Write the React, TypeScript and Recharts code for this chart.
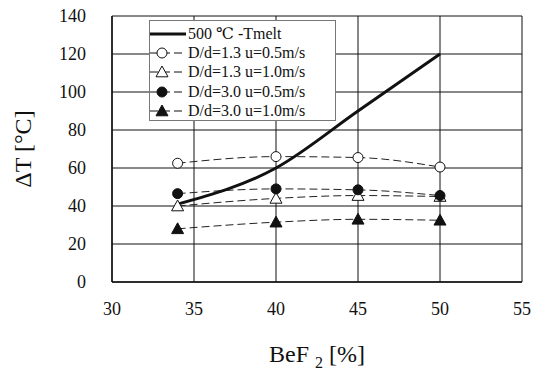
import React from 'react';
import {
  LineChart,
  Line,
  XAxis,
  YAxis,
  CartesianGrid,
  Label,
} from 'recharts';

const bef2 = [34, 40, 45, 50];
const tMelt = [41, 60, 90, 120];
const d13u05 = [62.5, 66, 65.5, 60.5];
const d13u10 = [40, 44, 45.5, 45];
const d30u05 = [46.5, 49, 48.5, 45.5];
const d30u10 = [28, 31.5, 33, 32.5];

const xTicks = [30, 35, 40, 45, 50, 55];
const yTicks = [0, 20, 40, 60, 80, 100, 120, 140];

const data = bef2.map((x, i) => ({
  x,
  tMelt: tMelt[i],
  d13u05: d13u05[i],
  d13u10: d13u10[i],
  d30u05: d30u05[i],
  d30u10: d30u10[i],
}));

const FONT = '"Liberation Serif", "DejaVu Serif", serif';

type Marker = 'none' | 'openCircle' | 'openTriangle' | 'circle' | 'triangle';

const MarkerShape = ({ kind, cx, cy }: { kind: Marker; cx: number; cy: number }) => {
  if (kind === 'openCircle' || kind === 'circle') {
    return (
      <circle
        cx={cx}
        cy={cy}
        r={5}
        fill={kind === 'circle' ? '#111' : '#fff'}
        stroke="#111"
        strokeWidth={1}
      />
    );
  }
  if (kind === 'openTriangle' || kind === 'triangle') {
    const s = 6;
    return (
      <polygon
        points={`${cx},${cy - s} ${cx - s},${cy + s * 0.8} ${cx + s},${cy + s * 0.8}`}
        fill={kind === 'triangle' ? '#111' : '#fff'}
        stroke="#111"
        strokeWidth={1}
      />
    );
  }
  return null;
};

const makeDot = (kind: Marker) => (props: any) => {
  const { cx, cy, index } = props;
  if (cx == null || cy == null) return <g key={index} />;
  return (
    <g key={index}>
      <MarkerShape kind={kind} cx={cx} cy={cy} />
    </g>
  );
};

const legendRows: { label: string; kind: Marker; dashed: boolean }[] = [
  { label: '500 ℃ -Tmelt', kind: 'none', dashed: false },
  { label: 'D/d=1.3 u=0.5m/s', kind: 'openCircle', dashed: true },
  { label: 'D/d=1.3 u=1.0m/s', kind: 'openTriangle', dashed: true },
  { label: 'D/d=3.0 u=0.5m/s', kind: 'circle', dashed: true },
  { label: 'D/d=3.0 u=1.0m/s', kind: 'triangle', dashed: true },
];

const ChartLegend = () => (
  <div
    style={{
      position: 'absolute',
      left: 149,
      top: 20,
      border: '1px solid #777',
      background: '#fff',
      width: 187,
      height: 101,
      padding: '3px 0',
      boxSizing: 'border-box',
      fontFamily: FONT,
      fontSize: 16,
      color: '#111',
    }}
  >
    {legendRows.map((r) => (
      <div key={r.label} style={{ display: 'flex', alignItems: 'center', height: 19.4 }}>
        <svg width={38} height={14}>
          <line
            x1={0}
            y1={7}
            x2={36}
            y2={7}
            stroke="#111"
            strokeWidth={r.dashed ? 1 : 3}
            strokeDasharray={r.dashed ? '8 4' : undefined}
          />
          <MarkerShape kind={r.kind} cx={12} cy={7} />
        </svg>
        <span style={{ whiteSpace: 'nowrap' }}>{r.label}</span>
      </div>
    ))}
  </div>
);

const XTitle = (props: any) => {
  const { viewBox } = props;
  const cx = viewBox.x + viewBox.width / 2;
  return (
    <text x={cx} y={viewBox.y + 80} textAnchor="middle" fontFamily={FONT} fontSize={24} fill="#111">
      BeF
      <tspan fontSize={16} dx={6} dy={6}>2</tspan>
      <tspan dx={6} dy={-6}>[%]</tspan>
    </text>
  );
};

const tickStyle = { fontFamily: FONT, fontSize: 18, fill: '#111' };

export default function App() {
  return (
    <div
      style={{
        position: 'absolute',
        left: 0,
        top: 0,
        width: 539,
        height: 377,
        background: '#fff',
        fontFamily: FONT,
      }}
    >
      <LineChart
        width={539}
        height={377}
        data={data}
        margin={{ top: 16, right: 17, bottom: 65, left: 52 }}
        style={{ fontFamily: FONT }}
      >
        <CartesianGrid stroke="#111" strokeWidth={1} horizontalValues={yTicks} verticalValues={xTicks} />
        <XAxis
          dataKey="x"
          type="number"
          domain={[30, 55]}
          ticks={xTicks}
          tickLine={false}
          tickMargin={14}
          axisLine={{ stroke: '#111', strokeWidth: 1.5 }}
          tick={tickStyle}
          fontFamily={FONT}
          height={30}
        >
          <Label content={<XTitle />} />
        </XAxis>
        <YAxis
          type="number"
          domain={[0, 140]}
          ticks={yTicks}
          interval={0}
          tickLine={false}
          tickMargin={20}
          axisLine={{ stroke: '#111', strokeWidth: 1.5 }}
          tick={tickStyle}
          fontFamily={FONT}
          width={60}
        >
          <Label
            value="ΔT [°C]"
            angle={-90}
            position="insideLeft"
            offset={-30}
            style={{ fontFamily: FONT, fontSize: 24, fill: '#111', textAnchor: 'middle' }}
          />
        </YAxis>
        <Line
          dataKey="d13u05"
          type="monotone"
          stroke="#222"
          strokeWidth={1}
          strokeDasharray="8 4"
          dot={makeDot('openCircle')}
          isAnimationActive={false}
        />
        <Line
          dataKey="d13u10"
          type="monotone"
          stroke="#222"
          strokeWidth={1}
          strokeDasharray="8 4"
          dot={makeDot('openTriangle')}
          isAnimationActive={false}
        />
        <Line
          dataKey="d30u05"
          type="monotone"
          stroke="#222"
          strokeWidth={1}
          strokeDasharray="8 4"
          dot={makeDot('circle')}
          isAnimationActive={false}
        />
        <Line
          dataKey="d30u10"
          type="monotone"
          stroke="#222"
          strokeWidth={1}
          strokeDasharray="8 4"
          dot={makeDot('triangle')}
          isAnimationActive={false}
        />
        <Line
          dataKey="tMelt"
          type="monotone"
          stroke="#111"
          strokeWidth={3}
          dot={false}
          isAnimationActive={false}
        />
      </LineChart>
      <ChartLegend />
    </div>
  );
}
